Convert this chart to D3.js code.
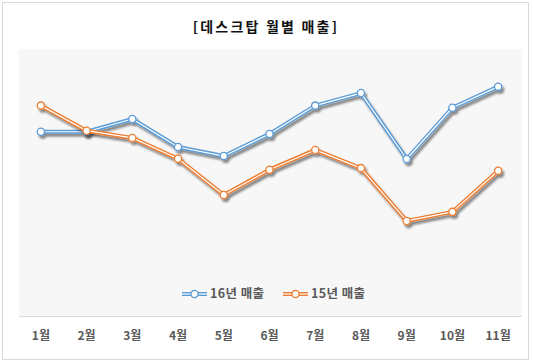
<!DOCTYPE html>
<html>
<head>
<meta charset="utf-8">
<script src="https://cdn.jsdelivr.net/npm/d3@7"></script>
<style>
  body { margin: 0; background: #fff; }
  svg { display: block; }
</style>
</head>
<body>
<div id="chart"></div>
<script>
// data (hidden value axis, 0..100)
const months = ["1월", "2월", "3월", "4월", "5월", "6월", "7월", "8월", "9월", "10월", "11월"]
const sales16 = [69.0, 69.0, 73.8, 63.3, 59.9, 68.2, 78.8, 83.5, 58.8, 78.0, 85.9]
const sales15 = [78.8, 69.4, 66.7, 58.9, 45.3, 54.8, 62.2, 55.4, 35.6, 39.0, 54.4]
const seriesNames = ["16년 매출", "15년 매출"]
const seriesColors = ["#5b9bd5", "#ed7d31"]

const W = 534, H = 364
const font = "'Noto Sans CJK KR', 'Noto Sans', sans-serif"

const svg = d3.select("#chart").append("svg")
    .attr("width", W)
    .attr("height", H)

const defs = svg.append("defs")
const shadow = defs.append("filter").attr("id", "shadow")
    .attr("x", "-20%").attr("y", "-20%").attr("width", "140%").attr("height", "140%")
shadow.append("feGaussianBlur").attr("in", "SourceAlpha").attr("stdDeviation", 1.3).attr("result", "b")
shadow.append("feOffset").attr("in", "b").attr("dx", 2).attr("dy", 2.5).attr("result", "o")
shadow.append("feComponentTransfer").attr("in", "o").attr("result", "s")
    .append("feFuncA").attr("type", "linear").attr("slope", 0.45)
const merge = shadow.append("feMerge")
merge.append("feMergeNode").attr("in", "s")
merge.append("feMergeNode").attr("in", "SourceGraphic")

// outer frame
svg.append("rect")
    .attr("x", 2.5).attr("y", 2.5)
    .attr("width", 526).attr("height", 357)
    .attr("fill", "#fff")
    .attr("stroke", "#d9d9d9")

// plot area
const plot = { left: 19, right: 522, top: 49, bottom: 316 }
svg.append("rect")
    .attr("x", plot.left).attr("y", plot.top)
    .attr("width", plot.right - plot.left).attr("height", plot.bottom - plot.top)
    .attr("fill", "#f7f7f7")

svg.append("text")
    .attr("x", 266).attr("y", 32)
    .attr("text-anchor", "middle")
    .attr("font-family", font)
    .attr("font-weight", "bold")
    .attr("font-size", 14)
    .attr("letter-spacing", 2.2)
    .attr("fill", "#111")
    .text("[데스크탑 월별 매출]")

const x = d3.scaleBand().domain(months).range([18, 521])
const y = d3.scaleLinear().domain([0, 100]).range([plot.bottom, plot.top])

const xAxis = svg.append("g")
    .attr("transform", `translate(0,${plot.bottom})`)
    .call(d3.axisBottom(x).tickSize(0).tickPadding(15))
xAxis.select(".domain").attr("stroke", "#d9d9d9").attr("d", `M${plot.left},0.5H${plot.right}`)
xAxis.selectAll("text")
    .attr("font-family", font)
    .attr("font-weight", "bold")
    .attr("font-size", 12)
    .attr("fill", "#595959")

const line = d3.line()
    .x((d, i) => x(months[i]) + x.bandwidth() / 2)
    .y(d => y(d))

const allSeries = [sales16, sales15]
allSeries.forEach((vals, si) => {
    const g = svg.append("g").attr("filter", "url(#shadow)")
    g.append("path")
        .datum(vals)
        .attr("d", line)
        .attr("fill", "none")
        .attr("stroke", seriesColors[si])
        .attr("stroke-width", 4)
        .attr("stroke-linejoin", "round")
    g.append("path")
        .datum(vals)
        .attr("d", line)
        .attr("fill", "none")
        .attr("stroke", "#fff")
        .attr("stroke-width", 1.2)
        .attr("stroke-linejoin", "round")
    g.selectAll("circle")
        .data(vals)
        .enter()
        .append("circle")
        .attr("cx", (d, i) => x(months[i]) + x.bandwidth() / 2)
        .attr("cy", d => y(d))
        .attr("r", 3.6)
        .attr("fill", "#fff")
        .attr("stroke", seriesColors[si])
        .attr("stroke-width", 1.3)
})

// legend
const legendX = [182, 283]
const legend = svg.selectAll(".legend")
    .data(seriesNames)
    .enter()
    .append("g")
    .attr("class", "legend")
    .attr("transform", (d, i) => `translate(${legendX[i]},294)`)
legend.append("line")
    .attr("x1", 0).attr("x2", 25)
    .attr("stroke", (d, i) => seriesColors[i])
    .attr("stroke-width", 4)
legend.append("line")
    .attr("x1", 0).attr("x2", 25)
    .attr("stroke", "#fff")
    .attr("stroke-width", 1.2)
legend.append("circle")
    .attr("cx", 12.5).attr("r", 3.6)
    .attr("fill", "#fff")
    .attr("stroke", (d, i) => seriesColors[i])
    .attr("stroke-width", 1.3)
legend.append("text")
    .attr("x", 28).attr("dy", "0.35em")
    .attr("font-family", font)
    .attr("font-weight", "bold")
    .attr("font-size", 12.5)
    .attr("letter-spacing", 0.4)
    .attr("fill", "#595959")
    .text(d => d)
</script>
</body>
</html>
